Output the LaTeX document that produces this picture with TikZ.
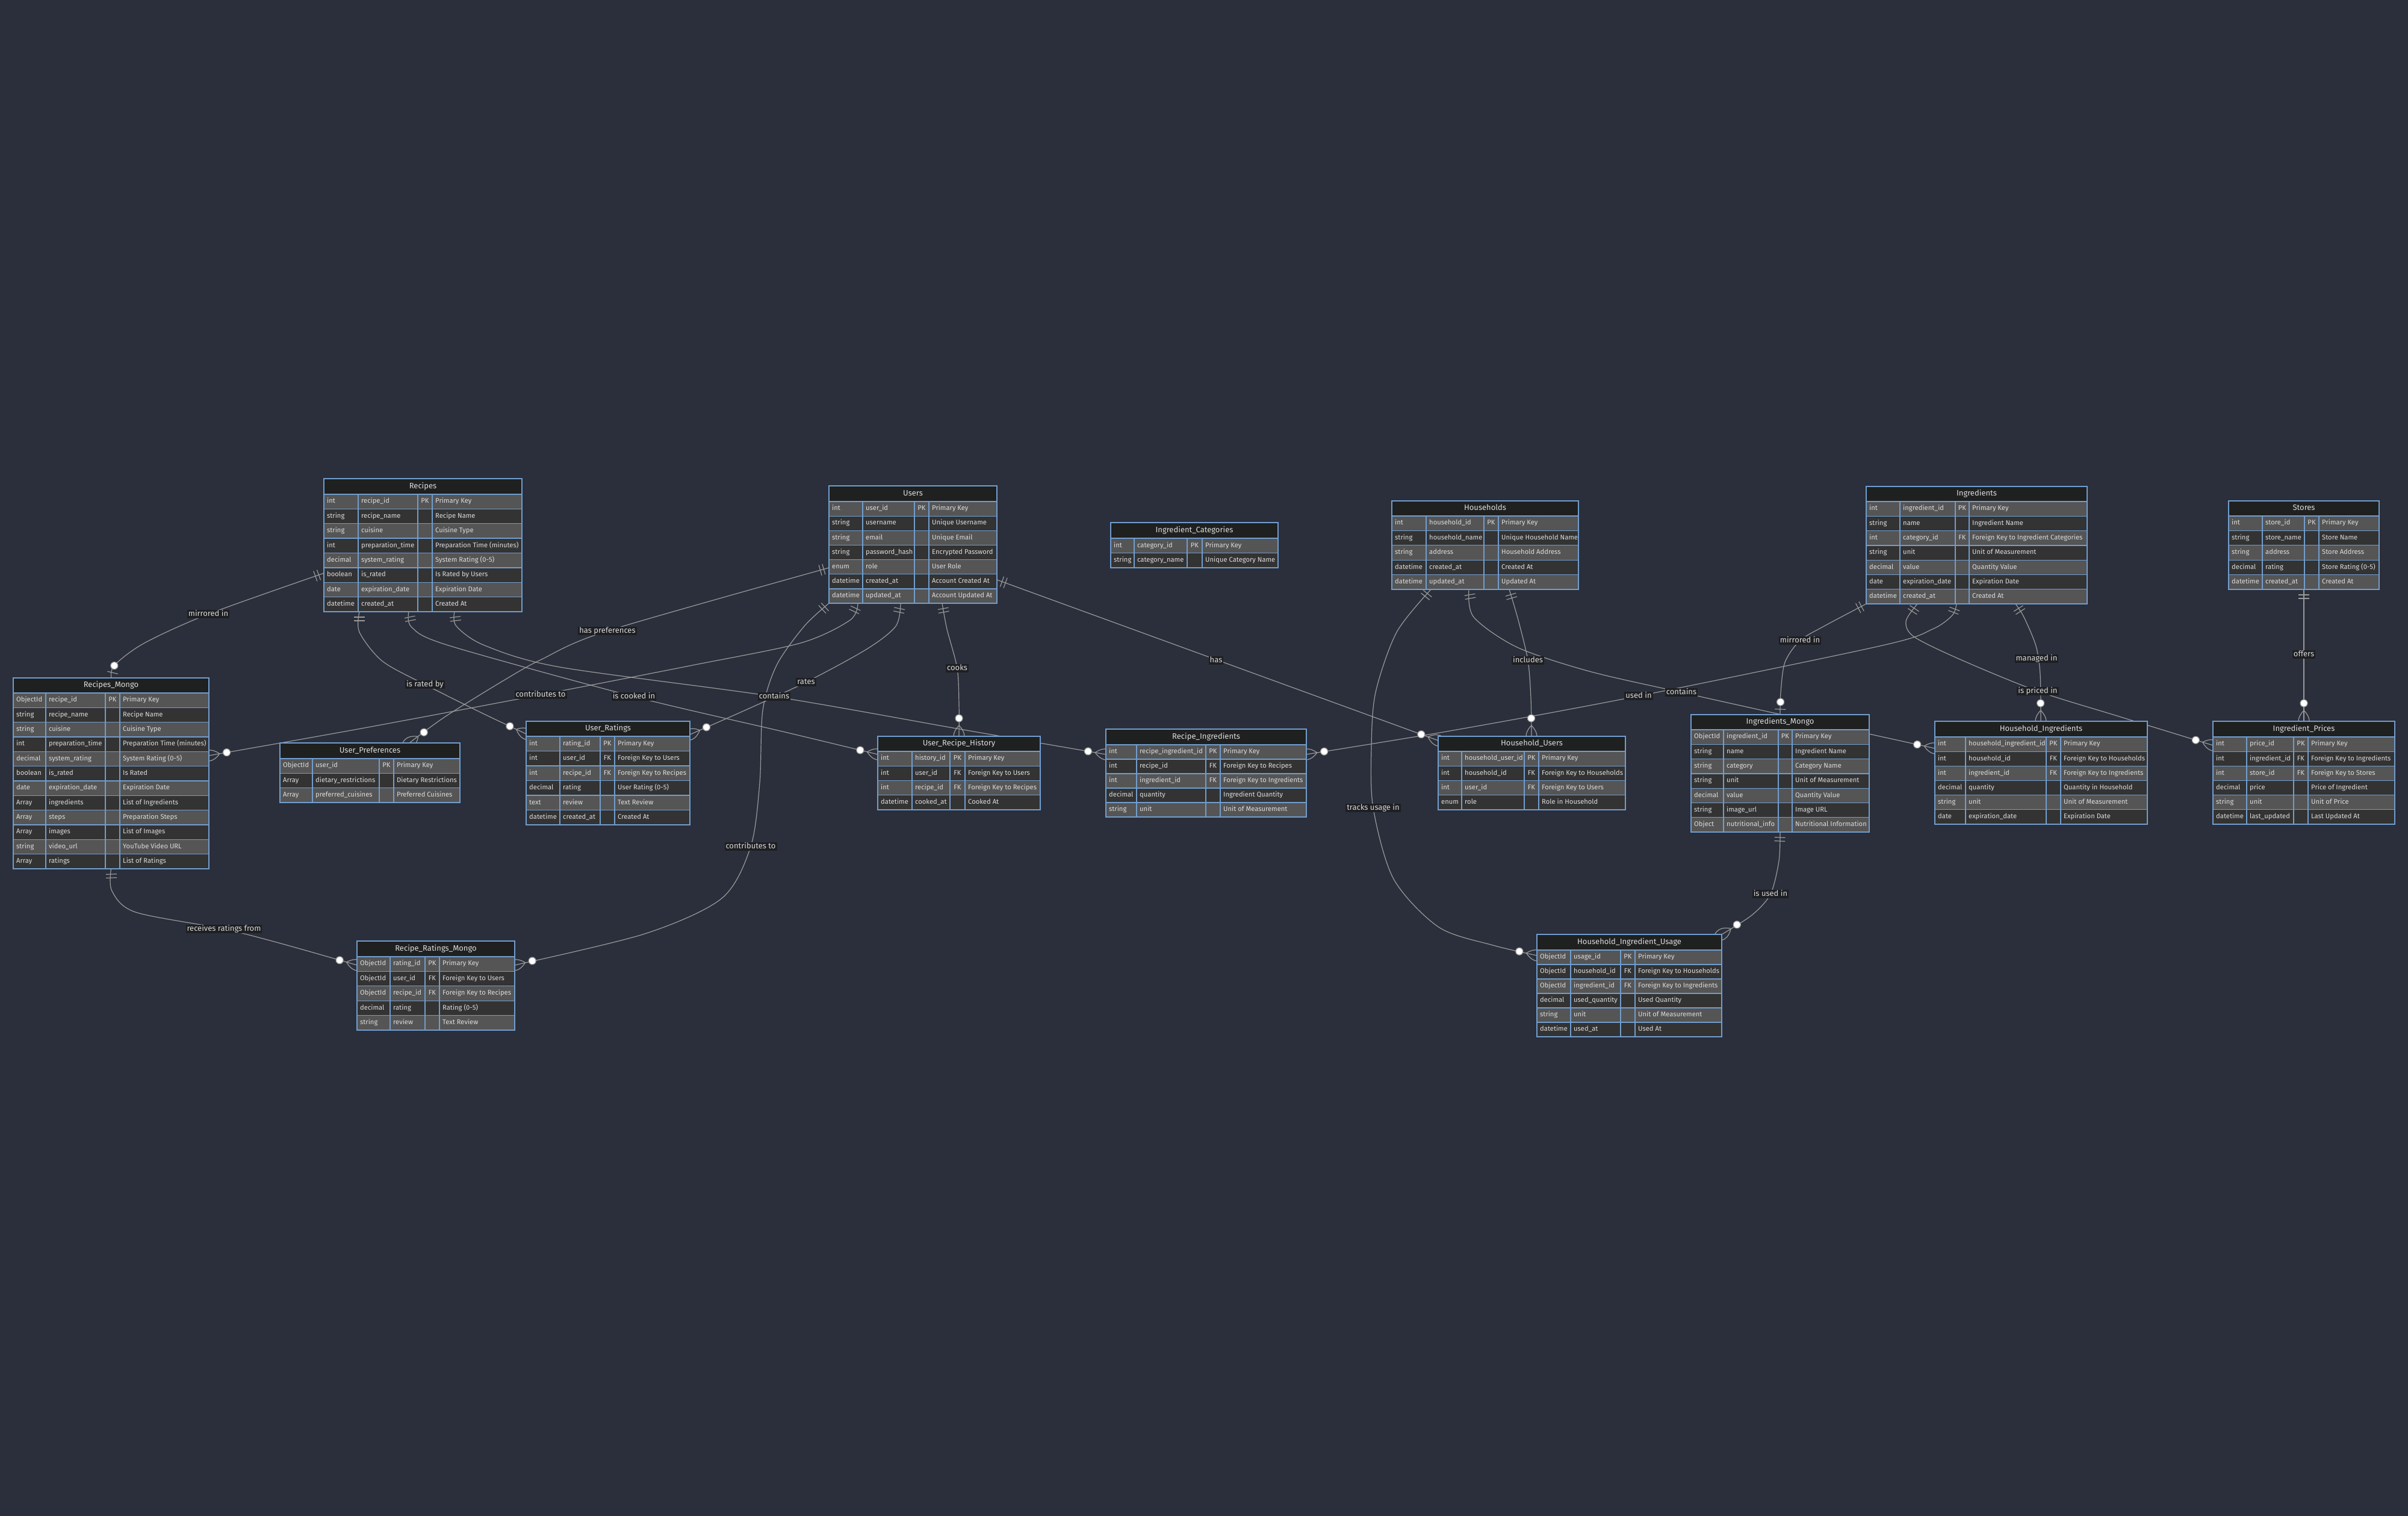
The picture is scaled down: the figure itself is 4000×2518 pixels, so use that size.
\documentclass[tikz,border=0pt]{standalone}
\usepackage{fontspec}
\setmainfont{Fira Sans}
\definecolor{bgc}{HTML}{2A2F3B}
\definecolor{erhead}{HTML}{1F2020}
\definecolor{erodd}{HTML}{555555}
\definecolor{ereven}{HTML}{333333}
\definecolor{erborder}{HTML}{719DCD}
\definecolor{ertext}{HTML}{DCDCDC}
\definecolor{edgec}{HTML}{9A9A9A}
\definecolor{labbg}{HTML}{1E1F22}
\definecolor{labtext}{HTML}{D8D8D8}
\pgfdeclarelayer{bglayer}
\pgfdeclarelayer{edgelayer}
\pgfsetlayers{bglayer,edgelayer,main}

\tikzset{
  tablebox/.style={inner sep=0pt, outer sep=0pt},
  erline/.style={draw=erborder, line width=1.3pt},
  celltext/.style={anchor=west, inner sep=0pt, text=ertext, font=\fontsize{11.2}{13}\selectfont, text height=8pt, text depth=2.5pt},
  keytext/.style={anchor=center, inner sep=0pt, text=ertext, font=\fontsize{11.2}{13}\selectfont, text height=8pt, text depth=2.5pt},
  titletext/.style={anchor=center, inner sep=0pt, text=ertext, font=\fontsize{13}{15}\selectfont, text height=9pt, text depth=3pt},
  rel/.style={draw=edgec, line width=1.2pt},
  markline/.style={draw=edgec, line width=1.2pt},
  elabel/.style={fill=labbg, text=labtext, inner xsep=2pt, inner ysep=1pt, font=\fontsize{13}{15}\selectfont, text height=9.5pt, text depth=2.5pt},
}

% cardinality markers (drawn in the direction of the connector)
\newcommand\markone[2]{% #1 start coordinate name, #2 next point
  \path #2 coordinate (mknext);
  \pgfmathanglebetweenpoints{\pgfpointanchor{#1}{center}}{\pgfpointanchor{mknext}{center}}%
  \let\mkang\pgfmathresult
  \begin{scope}[shift={(#1)}, rotate=\mkang]
    \draw[markline] (9,-9) -- (9,9) (15,-9) -- (15,9);
  \end{scope}}
\newcommand\markmany[2]{% #1 end coordinate name, #2 previous point
  \path #2 coordinate (mkprev);
  \pgfmathanglebetweenpoints{\pgfpointanchor{mkprev}{center}}{\pgfpointanchor{#1}{center}}%
  \let\mkang\pgfmathresult
  \begin{scope}[shift={(#1)}, rotate=\mkang]
    \draw[markline] (-18,0) .. controls (-6,-12) and (6,-12) .. (18,0) .. controls (6,12) and (-6,12) .. (-18,0);
    \draw[markline, fill=white] (-30,0) circle[radius=6];
  \end{scope}}
\newcommand\markzo[2]{% #1 end coordinate name, #2 previous point
  \path #2 coordinate (mkprev);
  \pgfmathanglebetweenpoints{\pgfpointanchor{mkprev}{center}}{\pgfpointanchor{#1}{center}}%
  \let\mkang\pgfmathresult
  \begin{scope}[shift={(#1)}, rotate=\mkang]
    \draw[markline] (-9,-9) -- (-9,9);
    \draw[markline, fill=white] (-21,0) circle[radius=6];
  \end{scope}}

\makeatletter
\def\er@cols#1,#2,#3,#4,#5\relax{\def\erL{#1}\def\erA{#2}\def\erB{#3}\def\erC{#4}\def\erR{#5}}
\def\er@geo#1,#2,#3,#4\relax{\def\erT{#1}\def\erH{#2}\def\erBot{#3}\def\erN{#4}}
\newcommand\ertable[5]{%
  \er@cols#2\relax
  \er@geo#3\relax
  \pgfmathsetmacro\erh{(\erBot-\erH)/\erN}%
  \node[tablebox, minimum width={\erR-\erL}, minimum height={\erBot-\erT}] (#1) at ({(\erL+\erR)/2},{(\erT+\erBot)/2}) {};
  \fill[erhead] (\erL,\erT) rectangle (\erR,\erH);
  \node[titletext] (#1-title) at ({(\erL+\erR)/2},{(\erT+\erH)/2}) {#4};
  \foreach \ty/\nm/\ky/\ds [count=\i] in {#5} {%
    \pgfmathsetmacro\ya{\erH+(\i-1)*\erh}%
    \pgfmathsetmacro\yb{\erH+\i*\erh}%
    \pgfmathsetmacro\ym{(\ya+\yb)/2}%
    \ifodd\i\def\rowc{erodd}\else\def\rowc{ereven}\fi
    \fill[\rowc] (\erL,\ya) rectangle (\erR,\yb);
    \draw[erline] (\erL,\ya) -- (\erR,\ya);
    \node[celltext] (#1-\i-t) at ({\erL+5},\ym) {\ty};
    \node[celltext] (#1-\i-n) at ({\erA+5},\ym) {\nm};
    \node[keytext] (#1-\i-k) at ({(\erB+\erC)/2},\ym) {\ky};
    \node[celltext] (#1-\i-d) at ({\erC+5},\ym) {\ds};
  }%
  \draw[erline] (\erA,\erH) -- (\erA,\erBot) (\erB,\erH) -- (\erB,\erBot) (\erC,\erH) -- (\erC,\erBot);
  \draw[erline] (\erL,\erT) rectangle (\erR,\erBot);
}
\makeatother

\begin{document}
\begin{tikzpicture}[x=1pt,y=-1pt]
\useasboundingbox (0,0) rectangle (4000,2518);
\begin{pgfonlayer}{bglayer}
\fill[bgc] (0,0) rectangle (4000,2518);
\end{pgfonlayer}

% ---------------- tables ----------------
\ertable{R}{538,595,694,718,867}{795,821,1016,8}{Recipes}{
int/recipe\_id/PK/Primary Key,
string/recipe\_name//Recipe Name,
string/cuisine//Cuisine Type,
int/preparation\_time//Preparation Time (minutes),
decimal/system\_rating//System Rating (0-5),
boolean/is\_rated//Is Rated by Users,
date/expiration\_date//Expiration Date,
datetime/created\_at//Created At}

\ertable{U}{1377,1433,1519,1543,1656}{807,833,1002,7}{Users}{
int/user\_id/PK/Primary Key,
string/username//Unique Username,
string/email//Unique Email,
string/password\_hash//Encrypted Password,
enum/role//User Role,
datetime/created\_at//Account Created At,
datetime/updated\_at//Account Updated At}

\ertable{IC}{1845,1884,1972,1997,2123}{868,894,943,2}{Ingredient\_Categories}{
int/category\_id/PK/Primary Key,
string/category\_name//Unique Category Name}

\ertable{HH}{2312,2369,2465,2489,2622}{832,857,979,5}{Households}{
int/household\_id/PK/Primary Key,
string/household\_name//Unique Household Name,
string/address//Household Address,
datetime/created\_at//Created At,
datetime/updated\_at//Updated At}

\ertable{ING}{3100,3156,3248,3271,3467}{808,833,1003,7}{Ingredients}{
int/ingredient\_id/PK/Primary Key,
string/name//Ingredient Name,
int/category\_id/FK/Foreign Key to Ingredient Categories,
string/unit//Unit of Measurement,
decimal/value//Quantity Value,
date/expiration\_date//Expiration Date,
datetime/created\_at//Created At}

\ertable{ST}{3702,3758,3828,3852,3952}{832,857,979,5}{Stores}{
int/store\_id/PK/Primary Key,
string/store\_name//Store Name,
string/address//Store Address,
decimal/rating//Store Rating (0-5),
datetime/created\_at//Created At}

\ertable{RM}{22,76,175,199,347}{1126,1151,1443,12}{Recipes\_Mongo}{
ObjectId/recipe\_id/PK/Primary Key,
string/recipe\_name//Recipe Name,
string/cuisine//Cuisine Type,
int/preparation\_time//Preparation Time (minutes),
decimal/system\_rating//System Rating (0-5),
boolean/is\_rated//Is Rated,
date/expiration\_date//Expiration Date,
Array/ingredients//List of Ingredients,
Array/steps//Preparation Steps,
Array/images//List of Images,
string/video\_url//YouTube Video URL,
Array/ratings//List of Ratings}

\ertable{UP}{465,519,630,654,764}{1234,1260,1333,3}{User\_Preferences}{
ObjectId/user\_id/PK/Primary Key,
Array/dietary\_restrictions//Dietary Restrictions,
Array/preferred\_cuisines//Preferred Cuisines}

\ertable{UR}{874,930,997,1021,1146}{1198,1223,1370,6}{User\_Ratings}{
int/rating\_id/PK/Primary Key,
int/user\_id/FK/Foreign Key to Users,
int/recipe\_id/FK/Foreign Key to Recipes,
decimal/rating//User Rating (0-5),
text/review//Text Review,
datetime/created\_at//Created At}

\ertable{URH}{1458,1515,1578,1603,1728}{1223,1248,1345,4}{User\_Recipe\_History}{
int/history\_id/PK/Primary Key,
int/user\_id/FK/Foreign Key to Users,
int/recipe\_id/FK/Foreign Key to Recipes,
datetime/cooked\_at//Cooked At}

\ertable{RI}{1837,1888,2003,2027,2170}{1211,1237,1357,5}{Recipe\_Ingredients}{
int/recipe\_ingredient\_id/PK/Primary Key,
int/recipe\_id/FK/Foreign Key to Recipes,
int/ingredient\_id/FK/Foreign Key to Ingredients,
decimal/quantity//Ingredient Quantity,
string/unit//Unit of Measurement}

\ertable{HU}{2389,2428,2532,2556,2700}{1223,1248,1345,4}{Household\_Users}{
int/household\_user\_id/PK/Primary Key,
int/household\_id/FK/Foreign Key to Households,
int/user\_id/FK/Foreign Key to Users,
enum/role//Role in Household}

\ertable{IM}{2809,2863,2954,2977,3105}{1187,1212,1382,7}{Ingredients\_Mongo}{
ObjectId/ingredient\_id/PK/Primary Key,
string/name//Ingredient Name,
string/category//Category Name,
string/unit//Unit of Measurement,
decimal/value//Quantity Value,
string/image\_url//Image URL,
Object/nutritional\_info//Nutritional Information}

\ertable{HI}{3214,3265,3399,3423,3567}{1198,1224,1369,6}{Household\_Ingredients}{
int/household\_ingredient\_id/PK/Primary Key,
int/household\_id/FK/Foreign Key to Households,
int/ingredient\_id/FK/Foreign Key to Ingredients,
decimal/quantity//Quantity in Household,
string/unit//Unit of Measurement,
date/expiration\_date//Expiration Date}

\ertable{IP}{3676,3732,3810,3834,3978}{1198,1224,1369,6}{Ingredient\_Prices}{
int/price\_id/PK/Primary Key,
int/ingredient\_id/FK/Foreign Key to Ingredients,
int/store\_id/FK/Foreign Key to Stores,
decimal/price//Price of Ingredient,
string/unit//Unit of Price,
datetime/last\_updated//Last Updated At}

\ertable{RRM}{593,648,706,730,855}{1563,1589,1711,5}{Recipe\_Ratings\_Mongo}{
ObjectId/rating\_id/PK/Primary Key,
ObjectId/user\_id/FK/Foreign Key to Users,
ObjectId/recipe\_id/FK/Foreign Key to Recipes,
decimal/rating//Rating (0-5),
string/review//Text Review}

\ertable{HIU}{2553,2609,2692,2716,2860}{1552,1578,1722,6}{Household\_Ingredient\_Usage}{
ObjectId/usage\_id/PK/Primary Key,
ObjectId/household\_id/FK/Foreign Key to Households,
ObjectId/ingredient\_id/FK/Foreign Key to Ingredients,
decimal/used\_quantity//Used Quantity,
string/unit//Unit of Measurement,
datetime/used\_at//Used At}

% ---------------- connector end points ----------------
\coordinate (e1s) at ([yshift=64pt]R.south west);
\coordinate (e1e) at ([xshift=163pt]RM.north west);
\coordinate (e2s) at ([xshift=59pt]R.south west);
\coordinate (e2e) at ([yshift=-21pt]UR.north west);
\coordinate (e3s) at ([xshift=141pt]R.south west);
\coordinate (e3e) at ([yshift=-30pt]URH.north west);
\coordinate (e4s) at ([xshift=217pt]R.south west);
\coordinate (e4e) at ([yshift=-42pt]RI.north west);
\coordinate (e5s) at ([yshift=-136pt]U.north west);
\coordinate (e5e) at ([xshift=215pt]UP.north west);
\coordinate (e6s) at ([xshift=48pt]U.south west);
\coordinate (e6e) at ([yshift=-129pt]RM.north east);
\coordinate (e7s) at ([xshift=119pt]U.south west);
\coordinate (e7e) at ([yshift=-22pt]UR.north east);
\coordinate (e8s) at ([xshift=188pt]U.south west);
\coordinate (e8e) at ([xshift=135pt]URH.north west);
\coordinate (e9s) at (U.south west);
\coordinate (e9e) at ([yshift=-40pt]RRM.north east);
\coordinate (e10s) at ([yshift=-156pt]U.north east);
\coordinate (e10e) at ([yshift=-7pt]HU.north west);
\coordinate (e11s) at ([xshift=195pt]HH.south west);
\coordinate (e11e) at ([xshift=155pt]HU.north west);
\coordinate (e12s) at ([xshift=128pt]HH.south west);
\coordinate (e12e) at ([yshift=-45pt]HI.north west);
\coordinate (e13s) at ([xshift=65pt]HH.south west);
\coordinate (e13e) at ([yshift=-35pt]HIU.north west);
\coordinate (e14s) at ([xshift=150pt]ING.south west);
\coordinate (e14e) at ([yshift=-42pt]RI.north east);
\coordinate (e15s) at (ING.south west);
\coordinate (e15e) at ([xshift=148pt]IM.north west);
\coordinate (e16s) at ([xshift=85pt]ING.south west);
\coordinate (e16e) at ([yshift=-40pt]IP.north west);
\coordinate (e17s) at ([xshift=248pt]ING.south west);
\coordinate (e17e) at ([xshift=176pt]HI.north west);
\coordinate (e18s) at (ST.south);
\coordinate (e18e) at (IP.north);
\coordinate (e19s) at (RM.south);
\coordinate (e19e) at ([yshift=-40pt]RRM.north west);
\coordinate (e20s) at (IM.south);
\coordinate (e20e) at (HIU.north east);

% ---------------- connectors ----------------
\begin{pgfonlayer}{edgelayer}
\draw[rel] plot[smooth] coordinates {(e1s) (346,1020) (240,1068) (190,1105) (e1e)};
\draw[rel] plot[smooth] coordinates {(e2s) (597,1050) (635,1098) (706,1137) (800,1184) (e2e)};
\draw[rel] plot[smooth] coordinates {(e3s) (684,1042) (745,1072) (1053,1157) (1300,1215) (e3e)};
\draw[rel] plot[smooth] coordinates {(e4s) (758,1040) (805,1072) (930,1108) (1286,1157) (1600,1212) (e4e)};
\draw[rel] plot[smooth] coordinates {(e5s) (1009,1048) (900,1095) (842,1127) (740,1190) (e5e)};
\draw[rel] plot[smooth] coordinates {(e6s) (1412,1030) (1330,1068) (1150,1105) (898,1154) (600,1210) (e6e)};
\draw[rel] plot[smooth] coordinates {(e7s) (1488,1040) (1440,1078) (1339,1133) (1237,1180) (e7e)};
\draw[rel] plot[smooth] coordinates {(e8s) (1573,1045) (1590,1110) (1593,1170) (e8e)};
\draw[rel] plot[smooth] coordinates {(e9s) (1336,1040) (1290,1105) (1267,1180) (1262,1300) (1247,1406) (1199,1492) (1071,1551) (e9e)};
\draw[rel] (e10s) -- (e10e);
\draw[rel] plot[smooth] coordinates {(e11s) (2522,1030) (2538,1097) (2543,1160) (e11e)};
\draw[rel] plot[smooth] coordinates {(e12s) (2448,1025) (2520,1075) (2640,1115) (2793,1150) (3000,1196) (e12e)};
\draw[rel] plot[smooth] coordinates {(e13s) (2320,1050) (2285,1150) (2278,1240) (2281,1342) (2315,1460) (2390,1540) (2480,1570) (e13e)};
\draw[rel] plot[smooth] coordinates {(e14s) (3243,1022) (3210,1045) (3127,1072) (2722,1156) (2420,1212) (e14e)};
\draw[rel] plot[smooth] coordinates {(e15s) (3030,1040) (2990,1064) (2965,1100) (2958,1150) (e15e)};
\draw[rel] plot[smooth] coordinates {(e16s) (3166,1032) (3180,1058) (3260,1097) (3385,1148) (3520,1190) (e16e)};
\draw[rel] plot[smooth] coordinates {(e17s) (3362,1025) (3382,1073) (3389,1120) (e17e)};
\draw[rel] (e18s) -- (e18e);
\draw[rel] plot[smooth] coordinates {(e19s) (186,1480) (225,1515) (372,1543) (470,1568) (e19e)};
\draw[rel] plot[smooth] coordinates {(e20s) (2955,1430) (2941,1485) (2910,1520) (e20e)};

\markone{e1s}{(346,1020)}   \markzo{e1e}{(190,1105)}
\markone{e2s}{(597,1050)}   \markmany{e2e}{(800,1184)}
\markone{e3s}{(684,1042)}   \markmany{e3e}{(1300,1215)}
\markone{e4s}{(758,1040)}   \markmany{e4e}{(1600,1212)}
\markone{e5s}{(1009,1048)}  \markmany{e5e}{(740,1190)}
\markone{e6s}{(1412,1030)}  \markmany{e6e}{(600,1210)}
\markone{e7s}{(1488,1040)}  \markmany{e7e}{(1237,1180)}
\markone{e8s}{(1573,1045)}  \markmany{e8e}{(1593,1170)}
\markone{e9s}{(1336,1040)}  \markmany{e9e}{(1071,1551)}
\markone{e10s}{(e10e)}      \markmany{e10e}{(e10s)}
\markone{e11s}{(2522,1030)} \markmany{e11e}{(2543,1160)}
\markone{e12s}{(2448,1025)} \markmany{e12e}{(3000,1196)}
\markone{e13s}{(2320,1050)} \markmany{e13e}{(2480,1570)}
\markone{e14s}{(3243,1022)} \markmany{e14e}{(2420,1212)}
\markone{e15s}{(3030,1040)} \markzo{e15e}{(2958,1150)}
\markone{e16s}{(3166,1032)} \markmany{e16e}{(3520,1190)}
\markone{e17s}{(3362,1025)} \markmany{e17e}{(3389,1120)}
\markone{e18s}{(e18e)}      \markmany{e18e}{(e18s)}
\markone{e19s}{(186,1480)}  \markmany{e19e}{(470,1568)}
\markone{e20s}{(2955,1430)} \markmany{e20e}{(2910,1520)}
\end{pgfonlayer}

% ---------------- connector labels ----------------
\node[elabel] (l1) at (346,1020) {mirrored in};
\node[elabel] (l2) at (706,1137) {is rated by};
\node[elabel] (l3) at (1053,1157) {is cooked in};
\node[elabel] (l4) at (1286,1157) {contains};
\node[elabel] (l5) at (1009,1048) {has preferences};
\node[elabel] (l6) at (898,1154) {contributes to};
\node[elabel] (l7) at (1339,1133) {rates};
\node[elabel] (l8) at (1590,1110) {cooks};
\node[elabel] (l9) at (1247,1406) {contributes to};
\node[elabel] (l10) at (2020,1097) {has};
\node[elabel] (l11) at (2538,1097) {includes};
\node[elabel] (l12) at (2793,1150) {contains};
\node[elabel] (l13) at (2281,1342) {tracks usage in};
\node[elabel] (l14) at (2722,1156) {used in};
\node[elabel] (l15) at (2990,1064) {mirrored in};
\node[elabel] (l16) at (3385,1148) {is priced in};
\node[elabel] (l17) at (3383,1094) {managed in};
\node[elabel] (l18) at (3827,1087) {offers};
\node[elabel] (l19) at (372,1543) {receives ratings from};
\node[elabel] (l20) at (2941,1485) {is used in};
\end{tikzpicture}
\end{document}
